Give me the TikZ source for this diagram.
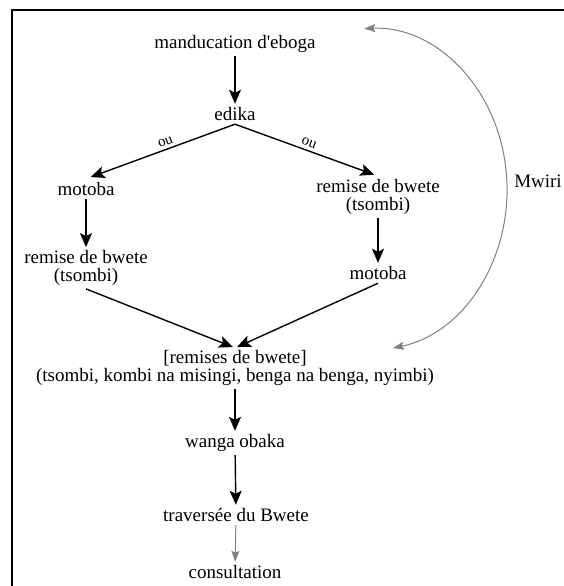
\documentclass[tikz,border=0pt]{standalone}
\usepackage{fontspec}
\setmainfont{Liberation Serif}
\newfontfamily\timesface{Liberation Serif}
\usepackage{tikz}
\usetikzlibrary{arrows.meta}
\tikzset{
	stage/.style={font=\timesface\fontsize{19}{17.5}\selectfont, align=center},
	flow/.style={draw=black, line width=1.4pt, -{Stealth[length=14pt,width=12pt,inset=3pt]}},
	flowgray/.style={draw=gray, line width=1pt, -{Stealth[length=11pt,width=8pt,inset=2pt]}},
	loopgray/.style={draw=gray, line width=1pt, {Stealth[length=11pt,width=8pt,inset=2pt]}-{Stealth[length=11pt,width=8pt,inset=2pt]}},
	choice/.style={font=\timesface\fontsize{15}{15}\selectfont, above, sloped, inner sep=3pt}
}

\begin{document}
\begin{tikzpicture}[x=1pt, y=-1pt]
	\useasboundingbox (0,0) rectangle (564,586);
	\draw[line width=1.3pt] (12,586) -- (12,10) -- (564,10);

	\node[stage] (manducation) at (235,44) {manducation d\textquotesingle eboga};
	\node[stage] (edika) at (235,114) {edika};

	\node[stage] (motoba-l) at (86,189) {motoba}; %left branch
	\node[stage] (remise-l) at (86,268) {remise de bwete\\(tsombi)};

	\node[stage] (remise-r) at (378,197) {remise de bwete\\(tsombi)}; %right branch
	\node[stage] (motoba-r) at (378,273) {motoba};

	\node[stage] (remises) at (235,368) {[remises de bwete]\\(tsombi, kombi na misingi, benga na benga, nyimbi)};
	\node[stage] (wanga) at (235,443) {wanga obaka};
	\node[stage] (traversee) at (236,515) {travers\'ee du Bwete};
	\node[stage] (consultation) at (235,572) {consultation};

	\draw[flow] (manducation) -- (edika);
	\draw[flow, shorten >=5pt] (edika.south) -- node[choice, pos=0.45] {ou} (motoba-l.north);
	\draw[flow, shorten >=4pt] (edika.south) -- node[choice, pos=0.5] {ou} (remise-r.north);
	\draw[flow] (motoba-l) -- (remise-l);
	\draw[flow] (remise-r) -- (motoba-r);
	\draw[flow] (remise-l.south) -- ([xshift=-2pt]remises.north);
	\draw[flow] (motoba-r.south) -- ([xshift=2pt]remises.north);
	\draw[flow] (remises) -- (wanga);
	\draw[flow] (wanga) -- (traversee);
	\draw[flowgray] (traversee) -- (consultation);

	% Mwiri
	\coordinate (mwiri-bot) at (393,348);
	\draw[loopgray] (mwiri-bot) arc[start angle=-80, end angle=92, x radius=138pt, y radius=161pt];
	\node[stage] (mwiri) at (538,181) {Mwiri};
\end{tikzpicture}
\end{document}
